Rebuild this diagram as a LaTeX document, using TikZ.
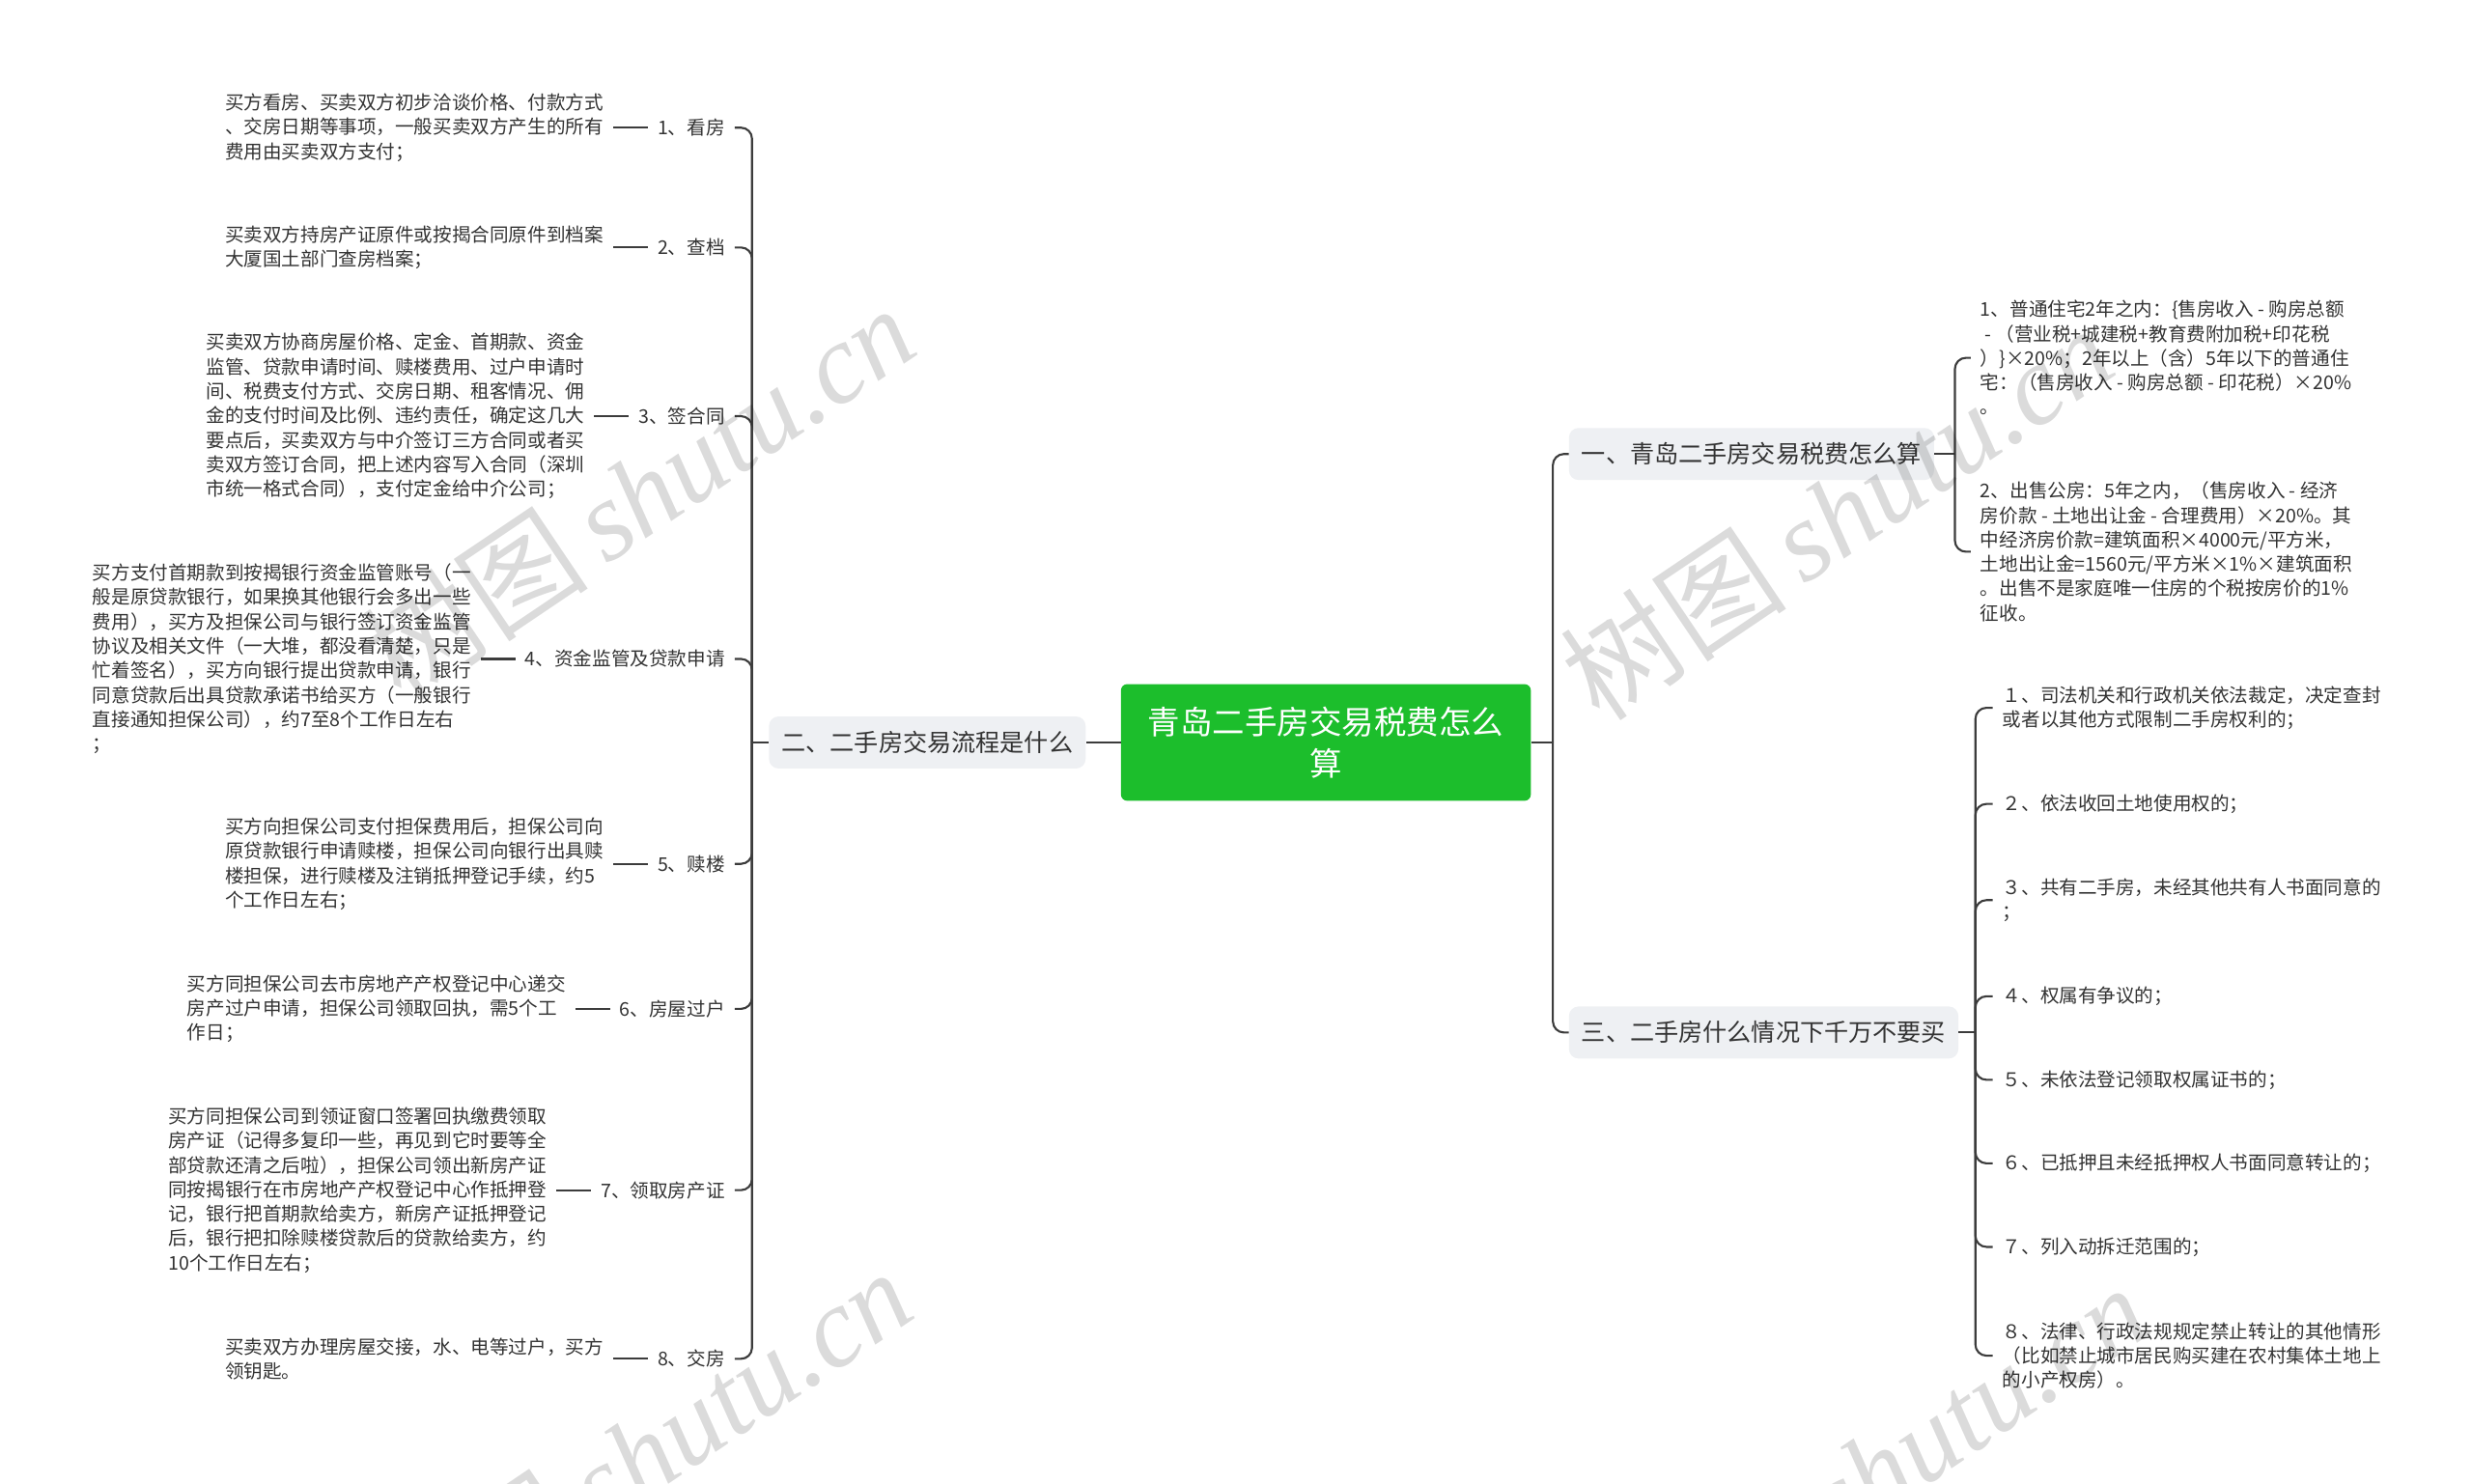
\documentclass[tikz,border=0pt]{standalone}
\usepackage{fontspec}
\setmainfont{Noto Sans CJK SC}
\newfontfamily\wmfont{Liberation Serif}
\usetikzlibrary{positioning}
\definecolor{rootgreen}{HTML}{1CBE2C}
\definecolor{topicbg}{HTML}{EEF0F3}
\definecolor{linegray}{HTML}{3C3C3C}
\definecolor{txtgray}{HTML}{333333}

\begin{document}
\begin{tikzpicture}[x=1pt,y=-1pt,node distance=22pt,
  rootbox/.style={fill=rootgreen,text=white,rounded corners=4pt,align=center,
  minimum width=260pt,minimum height=74pt,font=\fontsize{20.5}{26}\selectfont},
  topicbox/.style={fill=topicbg,text=txtgray,rounded corners=6pt,inner xsep=8pt,
  minimum height=33pt,font=\fontsize{15.4}{18}\selectfont},
  steplabel/.style={text=txtgray,inner sep=6pt,font=\fontsize{12}{15.5}\selectfont},
  leafnote/.style={text=txtgray,align=left,inner sep=6pt,font=\fontsize{12}{15.5}\selectfont},
  branchline/.style={draw=linegray,line width=1.3pt,rounded corners=7pt},
  wmtext/.style={text=black,text opacity=0.14,rotate=34,font=\fontsize{72}{72}\selectfont}]
\useasboundingbox (0,0) rectangle (1568,941);
\clip (0,0) rectangle (1568,941);

% centre and main topics
\node[rootbox] (root) at (841,471) {青岛二手房交易税费怎么\\算};
\node[topicbox,left=of root] (flow) {二、二手房交易流程是什么};
\node[topicbox,anchor=west] (tax) at (995,288) {一、青岛二手房交易税费怎么算};
\node[topicbox,anchor=west] (avoid) at (995,655) {三、二手房什么情况下千万不要买};

% left side: the eight steps
\foreach \i/\y/\t in {1/81/看房,2/157/查档,3/264/签合同,4/418/资金监管及贷款申请,
  5/548/赎楼,6/640/房屋过户,7/755/领取房产证,8/862/交房}
  \node[steplabel,anchor=east] (s\i) at (466,\y) {\i、\t};

\node[leafnote,left=of s1] (n1) {买方看房、买卖双方初步洽谈价格、付款方式\\、交房日期等事项，一般买卖双方产生的所有\\费用由买卖双方支付；};
\node[leafnote,left=of s2] (n2) {买卖双方持房产证原件或按揭合同原件到档案\\大厦国土部门查房档案；};
\node[leafnote,left=of s3] (n3) {买卖双方协商房屋价格、定金、首期款、资金\\监管、贷款申请时间、赎楼费用、过户申请时\\间、税费支付方式、交房日期、租客情况、佣\\金的支付时间及比例、违约责任，确定这几大\\要点后，买卖双方与中介签订三方合同或者买\\卖双方签订合同，把上述内容写入合同（深圳\\市统一格式合同），支付定金给中介公司；};
\node[leafnote,left=of s4] (n4) {买方支付首期款到按揭银行资金监管账号（一\\般是原贷款银行，如果换其他银行会多出一些\\费用），买方及担保公司与银行签订资金监管\\协议及相关文件（一大堆，都没看清楚，只是\\忙着签名），买方向银行提出贷款申请，银行\\同意贷款后出具贷款承诺书给买方（一般银行\\直接通知担保公司），约7至8个工作日左右\\；};
\node[leafnote,left=of s5] (n5) {买方向担保公司支付担保费用后，担保公司向\\原贷款银行申请赎楼，担保公司向银行出具赎\\楼担保，进行赎楼及注销抵押登记手续，约5\\个工作日左右；};
\node[leafnote,left=of s6] (n6) {买方同担保公司去市房地产产权登记中心递交\\房产过户申请，担保公司领取回执，需5个工\\作日；};
\node[leafnote,left=of s7] (n7) {买方同担保公司到领证窗口签署回执缴费领取\\房产证（记得多复印一些，再见到它时要等全\\部贷款还清之后啦），担保公司领出新房产证\\同按揭银行在市房地产产权登记中心作抵押登\\记，银行把首期款给卖方，新房产证抵押登记\\后，银行把扣除赎楼贷款后的贷款给卖方，约\\10个工作日左右；};
\node[leafnote,left=of s8] (n8) {买卖双方办理房屋交接，水、电等过户，买方\\领钥匙。};

% right side: tax formulas
\node[leafnote,anchor=west] (t1) at (1250,227) {1、普通住宅2年之内：\{售房收入 - 购房总额\\~- （营业税+城建税+教育费附加税+印花税\\）\}×20\%；2年以上（含）5年以下的普通住\\宅：（售房收入 - 购房总额 - 印花税）×20\%\\。};
\node[leafnote,anchor=west] (t2) at (1250,350) {2、出售公房：5年之内，（售房收入 - 经济\\房价款 - 土地出让金 - 合理费用）×20\%。其\\中经济房价款=建筑面积×4000元/平方米，\\土地出让金=1560元/平方米×1\%×建筑面积\\。出售不是家庭唯一住房的个税按房价的1\%\\征收。};

% right side: when not to buy
\node[leafnote,anchor=west] (b1) at (1264,449) {１、司法机关和行政机关依法裁定，决定查封\\或者以其他方式限制二手房权利的；};
\node[leafnote,anchor=west] (b2) at (1264,510) {２、依法收回土地使用权的；};
\node[leafnote,anchor=west] (b3) at (1264,571) {３、共有二手房，未经其他共有人书面同意的\\；};
\node[leafnote,anchor=west] (b4) at (1264,632) {４、权属有争议的；};
\node[leafnote,anchor=west] (b5) at (1264,685) {５、未依法登记领取权属证书的；};
\node[leafnote,anchor=west] (b6) at (1264,738) {６、已抵押且未经抵押权人书面同意转让的；};
\node[leafnote,anchor=west] (b7) at (1264,791) {７、列入动拆迁范围的；};
\node[leafnote,anchor=west] (b8) at (1264,860) {８、法律、行政法规规定禁止转让的其他情形\\（比如禁止城市居民购买建在农村集体土地上\\的小产权房）。};

% connectors
\coordinate (jl) at (477,471);
\coordinate (jr) at (985,471);
\coordinate (jt) at (1240,288);
\coordinate (jb) at (1253,655);
\draw[branchline] (root.west) -- (flow.east);
\draw[branchline] (flow.west) -- (jl);
\foreach \i in {1,...,8} {
  \draw[branchline] (jl) |- (s\i.east);
  \draw[branchline] (n\i.east) -- (s\i.west);
}
\draw[branchline] (root.east) -- (jr);
\foreach \n in {tax,avoid} \draw[branchline] (jr) |- (\n.west);
\draw[branchline] (tax.east) -- (jt);
\foreach \i in {1,2} \draw[branchline] (jt) |- (t\i.west);
\draw[branchline] (avoid.east) -- (jb);
\foreach \i in {1,...,8} \draw[branchline] (jb) |- (b\i.west);

% watermark
\foreach \x/\y [count=\k] in {405/312,1165/325,403/923,1187/933}
  \node[wmtext] (wm\k) at (\x,\y) {树图\,{\wmfont\itshape shutu.cn}};
\end{tikzpicture}
\end{document}
